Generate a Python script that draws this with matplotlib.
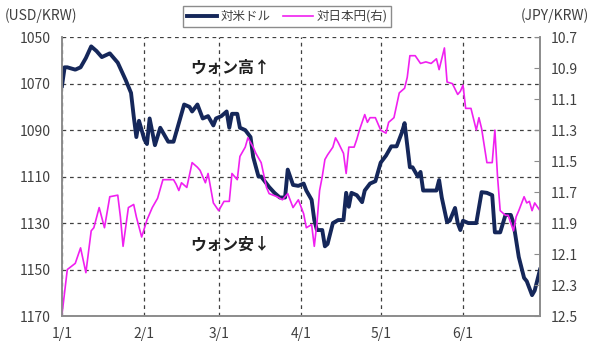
import numpy as np
import matplotlib.pyplot as plt

plt.rcParams['font.family'] = ['Noto Sans CJK JP', 'DejaVu Sans']

# day offset from 1/1 and USD/KRW rate (left axis)
usd_days = [0, 1, 2, 5, 7, 9, 11, 13, 15, 18, 21, 24, 26, 27, 28, 29, 31, 32, 33, 35,
            37, 40, 42, 44, 46, 48, 49, 51, 53, 55, 57, 58, 60, 62, 63, 64, 66, 67, 69, 71,
            72, 74, 75, 77, 78, 80, 82, 84, 85, 87, 89, 91, 92, 94, 95, 96, 98, 99, 100, 102,
            104, 106, 107, 108, 109, 111, 113, 114, 116, 118, 120, 122, 124, 126, 128, 129, 131, 132, 134, 135,
            136, 138, 141, 142, 143, 145, 146, 148, 149, 150, 151, 153, 156, 158, 160, 162, 163, 165, 167, 169,
            170, 172, 174, 175, 177, 178, 180]
usd_krw = [1071, 1063, 1063, 1064, 1063, 1059, 1054, 1056, 1058.6, 1057, 1061, 1068.5, 1074, 1084, 1093, 1086, 1094, 1096, 1085, 1096.5,
           1089, 1095, 1095, 1087, 1079, 1080, 1082, 1079, 1085, 1084, 1088, 1085, 1084, 1082, 1089, 1083, 1083, 1089, 1090, 1093,
           1101.6, 1110, 1110, 1113, 1114.5, 1117, 1119, 1119, 1107, 1113.6, 1114, 1113, 1116, 1120, 1128.7, 1133, 1133, 1140, 1139, 1130,
           1128.7, 1128.7, 1117, 1123, 1117, 1118, 1121, 1116, 1113, 1112, 1104, 1101, 1097, 1097, 1091, 1087, 1106, 1106, 1110, 1108,
           1116, 1116, 1116, 1111.5, 1119, 1129.6, 1129, 1123.5, 1130, 1133, 1129, 1130, 1130, 1116.7, 1117, 1118, 1134, 1134, 1126.5, 1126.5,
           1130, 1144.6, 1153.6, 1155, 1161, 1159, 1150]

# day offset from 1/1 and JPY/KRW rate (right axis)
jpy_days = [0, 2, 5, 7, 9, 11, 12, 14, 16, 18, 21, 22, 23, 25, 27, 28, 30, 32, 34, 36,
            38, 40, 42, 43, 44, 45, 47, 49, 51, 52, 54, 55, 57, 59, 61, 63, 64, 66, 67, 69,
            70, 72, 73, 75, 77, 78, 81, 83, 85, 87, 89, 91, 92, 94, 95, 96, 97, 98, 99, 100,
            102, 103, 104, 106, 107, 108, 110, 111, 112, 114, 115, 116, 118, 120, 122, 123, 125, 127, 129, 130,
            131, 133, 135, 137, 139, 141, 142, 144, 145, 147, 149, 150, 151, 152, 154, 156, 157, 158, 160, 162,
            163, 164, 165, 167, 168, 170, 171, 172, 174, 175, 176, 177, 178, 180]
jpy_krw = [12.49, 12.20, 12.16, 12.06, 12.22, 11.95, 11.93, 11.80, 11.93, 11.73, 11.72, 11.86, 12.05, 11.80, 11.78, 11.86, 11.99, 11.88, 11.80, 11.74,
           11.62, 11.62, 11.62, 11.65, 11.69, 11.64, 11.67, 11.51, 11.54, 11.56, 11.64, 11.58, 11.77, 11.82, 11.76, 11.76, 11.58, 11.62, 11.47, 11.41,
           11.35, 11.41, 11.45, 11.51, 11.67, 11.71, 11.73, 11.75, 11.71, 11.80, 11.75, 11.84, 11.93, 11.91, 12.05, 11.90, 11.69, 11.60, 11.49, 11.46,
           11.41, 11.35, 11.38, 11.45, 11.58, 11.41, 11.41, 11.36, 11.30, 11.20, 11.25, 11.22, 11.22, 11.30, 11.32, 11.25, 11.22, 11.06, 11.03, 10.96,
           10.82, 10.82, 10.87, 10.86, 10.87, 10.84, 10.91, 10.77, 10.99, 11.00, 11.07, 11.05, 11.01, 11.16, 11.16, 11.30, 11.22, 11.29, 11.51, 11.51,
           11.30, 11.60, 11.82, 11.85, 11.85, 11.95, 11.86, 11.82, 11.73, 11.77, 11.76, 11.82, 11.77, 11.82]

month_days = [0, 31, 59, 90, 120, 151]
month_labels = ['1/1', '2/1', '3/1', '4/1', '5/1', '6/1']
left_ticks = [1050, 1070, 1090, 1110, 1130, 1150, 1170]
right_ticks = [10.7, 10.9, 11.1, 11.3, 11.5, 11.7, 11.9, 12.1, 12.3, 12.5]

navy = '#15275a'
pink = '#f020f0'
grey = '#8c8c8c'
text_c = '#404040'

fig = plt.figure(figsize=(5.92, 3.5), dpi=100)
ax = fig.add_axes([0.1047, 0.097, 0.8075, 0.797])
ax2 = ax.twinx()

l1, = ax.plot(usd_days, usd_krw, color=navy, linewidth=2.8, label='対米ドル')
l2, = ax2.plot(jpy_days, jpy_krw, color=pink, linewidth=1.2, label='対日本円(右)')

ax.set_xlim(0, 180)
ax.set_ylim(1170, 1050)
ax2.set_ylim(12.5, 10.7)
ax.set_yticks(left_ticks)
ax.set_yticklabels([str(t) for t in left_ticks])
ax2.set_yticks(right_ticks)
ax2.set_yticklabels([f'{t:.1f}' for t in right_ticks])
ax.set_xticks(month_days)
ax.set_xticklabels(month_labels)

ax.grid(True, color='#404040', linestyle=(0, (3, 3)), linewidth=0.9)
ax.tick_params(axis='both', length=0, labelsize=10, labelcolor=text_c, pad=8)
ax.tick_params(axis='x', pad=8)
ax2.tick_params(axis='y', direction='in', length=4, color=grey, labelsize=10, labelcolor=text_c, pad=8)

for a in (ax, ax2):
    a.spines['top'].set_visible(False)
    for s in ('left', 'bottom', 'right'):
        a.spines[s].set_color(grey)
        a.spines[s].set_linewidth(1.2)

fig.text(0.008, 0.955, '(USD/KRW)', fontsize=10, color=text_c, ha='left', va='center')
fig.text(0.995, 0.955, '(JPY/KRW)', fontsize=10, color=text_c, ha='right', va='center')

ax.text(0.352, 0.89, 'ウォン高↑', transform=ax.transAxes, fontsize=11.5, fontweight='bold',
        color='#202020', ha='center', va='center')
ax.text(0.352, 0.255, 'ウォン安↓', transform=ax.transAxes, fontsize=11.5, fontweight='bold',
        color='#202020', ha='center', va='center')

leg = fig.legend(handles=[l1, l2], ncol=2, loc='center', bbox_to_anchor=(0.485, 0.953),
                 fontsize=9, frameon=True, fancybox=False, edgecolor='#707070',
                 handlelength=2.4, columnspacing=1.0, borderpad=0.3, handletextpad=0.3)
leg.get_frame().set_linewidth(1.0)
for t in leg.get_texts():
    t.set_color(text_c)

fig.savefig('out.png', dpi=100)
